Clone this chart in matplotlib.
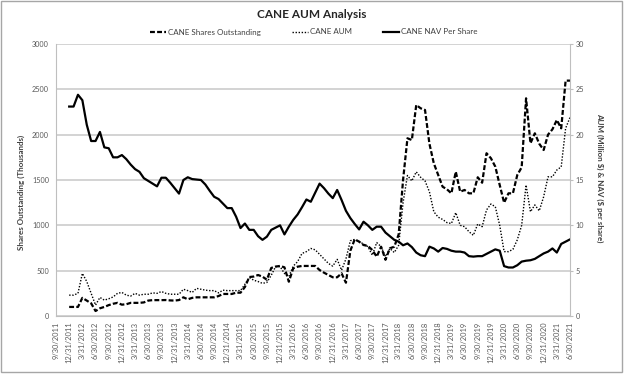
import numpy as np
import pandas as pd
import matplotlib
matplotlib.use('Agg')
import matplotlib.pyplot as plt
from matplotlib.patches import Rectangle

plt.rcParams['font.family'] = ['Lato', 'DejaVu Sans']

# monthly month-end dates, 9/30/2011 .. 6/30/2021; series start at 12/31/2011
months = pd.date_range('2011-09-30', '2021-06-30', freq='ME')
lead = [np.nan] * 3

# shares outstanding (thousands)
shares = lead + [
    100, 100, 100, 200, 170, 140, 55, 85, 100, 120,
    135, 145, 125, 130, 145, 145, 145, 150, 170, 175,
    175, 175, 176, 172, 170, 176, 206, 184, 200, 206,
    206, 206, 206, 206, 220, 243, 243, 243, 257, 257,
    320, 430, 435, 452, 434, 400, 530, 545, 552, 537,
    378, 526, 544, 552, 552, 552, 552, 507, 478, 452,
    427, 427, 471, 367, 720, 846, 820, 783, 772, 728,
    654, 764, 620, 747, 764, 900, 1500, 1960, 1941, 2327,
    2291, 2272, 1900, 1684, 1555, 1426, 1397, 1353, 1592, 1371,
    1390, 1353, 1353, 1530, 1470, 1795, 1740, 1647, 1445, 1250,
    1353, 1353, 1555, 1640, 2401, 1905, 2015, 1900, 1831, 2000,
    2059, 2162, 2070, 2596, 2596]

# AUM (million $)
aum = lead + [
    2.3, 2.3, 2.5, 4.7, 3.8, 2.5, 1.2, 2.05, 1.75, 1.9,
    2.1, 2.5, 2.6, 2.3, 2.2, 2.5, 2.3, 2.4, 2.4, 2.55,
    2.5, 2.7, 2.5, 2.4, 2.4, 2.4, 2.95, 2.8, 2.6, 3.05,
    2.95, 2.85, 2.8, 2.8, 2.55, 2.85, 2.8, 2.8, 2.8, 2.8,
    3.5, 4.25, 3.95, 3.8, 3.6, 3.7, 4.5, 5.45, 5.45, 4.7,
    4.35, 5.5, 6.0, 6.9, 7.1, 7.45, 7.3, 6.8, 6.3, 5.8,
    5.5, 6.25, 5.05, 6.3, 8.3, 8.45, 8.2, 7.95, 7.65, 6.7,
    8.1, 7.65, 6.55, 7.45, 7.0, 7.8, 12.5, 15.5, 14.9, 15.9,
    15.3, 14.9, 13.7, 11.5, 10.9, 10.65, 10.3, 10.2, 11.4, 10.0,
    9.85, 9.3, 8.9, 10.15, 9.85, 11.7, 12.35, 12.05, 10.0, 7.1,
    7.1, 7.35, 8.4, 10.0, 14.45, 11.5, 12.25, 11.6, 13.15, 15.35,
    15.35, 16.1, 16.45, 20.7, 21.9]

# NAV per share ($)
nav = lead + [
    23.1, 23.1, 24.4, 23.8, 21.1, 19.3, 19.3, 20.3, 18.6, 18.5,
    17.5, 17.5, 17.75, 17.3, 16.7, 16.2, 15.9, 15.2, 14.9, 14.6,
    14.3, 15.25, 15.25, 14.7, 14.1, 13.5, 15.0, 15.3, 15.1, 15.05,
    15.0, 14.5, 13.8, 13.15, 12.9, 12.4, 11.9, 11.9, 10.95, 9.7,
    10.2, 9.5, 9.5, 8.8, 8.4, 8.75, 9.5, 9.75, 10.0, 9.0,
    9.85, 10.6, 11.2, 12.0, 12.85, 12.6, 13.6, 14.6, 14.1, 13.5,
    13.0, 13.9, 12.8, 11.6, 10.8, 10.15, 9.55, 10.4, 10.0, 9.5,
    9.85, 9.85, 9.2, 8.8, 8.4, 8.2, 7.8, 8.0, 7.6, 7.0,
    6.7, 6.6, 7.65, 7.45, 7.1, 7.5, 7.4, 7.2, 7.1, 7.1,
    7.0, 6.6, 6.55, 6.6, 6.6, 6.85, 7.1, 7.35, 7.2, 5.5,
    5.35, 5.35, 5.6, 6.0, 6.1, 6.15, 6.3, 6.6, 6.9, 7.1,
    7.45, 7.0, 7.95, 8.2, 8.45]

tick_labels = ['{}/{}/{}'.format(d.month, d.day, d.year) for d in months[::3]]

W, H = 624, 377
fig = plt.figure(figsize=(W / 100, H / 100), dpi=100)
fig.patches.append(Rectangle((1 / W, 5 / H), 621 / W, 371 / H, transform=fig.transFigure,
                             fill=False, edgecolor='#a6a6a6', lw=1.0))

ax = fig.add_axes([56 / W, 1 - 316 / H, (570 - 56) / W, (316 - 44) / H])
ax2 = ax.twinx()
x = np.arange(len(months))

l1, = ax.plot(x, shares, color='black', lw=1.6, dashes=(2.2, 1.0), label='CANE Shares Outstanding')
l2, = ax2.plot(x, aum, color='black', lw=1.0, dashes=(1.0, 1.2), label='CANE AUM')
l3, = ax2.plot(x, nav, color='black', lw=1.6, label='CANE NAV Per Share')

ax.set_xlim(0, len(months) - 1)
ax.set_ylim(0, 3000)
ax2.set_ylim(0, 30)
ax.set_yticks(range(0, 3001, 500))
ax2.set_yticks(range(0, 31, 5))
ax.yaxis.grid(True, color='#c8c8c8', lw=1.1)
ax.set_axisbelow(True)

ax.set_xticks(x[::3])
ax.set_xticklabels(tick_labels, rotation=90, fontsize=5.4, color='#595959')
ax.tick_params(axis='x', length=0, pad=4)
ax.tick_params(axis='y', length=0, labelsize=5.2, labelcolor='#595959', pad=5)
ax2.tick_params(axis='y', length=2.5, width=0.8, color='#bfbfbf', labelsize=5.2,
                labelcolor='#595959', pad=1.5)

for s in ['top', 'right']:
    ax.spines[s].set_visible(False)
for s in ['top', 'left', 'bottom']:
    ax2.spines[s].set_visible(False)
for s in ['left', 'bottom']:
    ax.spines[s].set_color('#bfbfbf')
ax2.spines['right'].set_color('#bfbfbf')

ax.set_ylabel('Shares Outstanding (Thousands)', fontsize=5.8, fontweight='bold',
              color='#404040', rotation=90, va='center')
ax.yaxis.set_label_coords((21 - 56) / 514, 0.455)
ax2.set_ylabel(r'AUM (Million \$) & NAV (\$ per share)', fontsize=5.8, fontweight='bold',
               color='#404040', rotation=270, va='center')
ax2.yaxis.set_label_coords((600 - 56) / 514, 0.51)

fig.text(0.5, 1 - 15 / H, 'CANE AUM Analysis', ha='center', va='center',
         fontsize=8.5, fontweight='bold', color='#262626')
fig.legend(handles=[l1, l2, l3], loc='center', bbox_to_anchor=(0.503, 1 - 32 / H), ncol=3,
           frameon=False, fontsize=5.8, handlelength=2.0, columnspacing=3.8,
           handletextpad=0.3, labelcolor='#404040')

fig.savefig('out.png', dpi=100)
